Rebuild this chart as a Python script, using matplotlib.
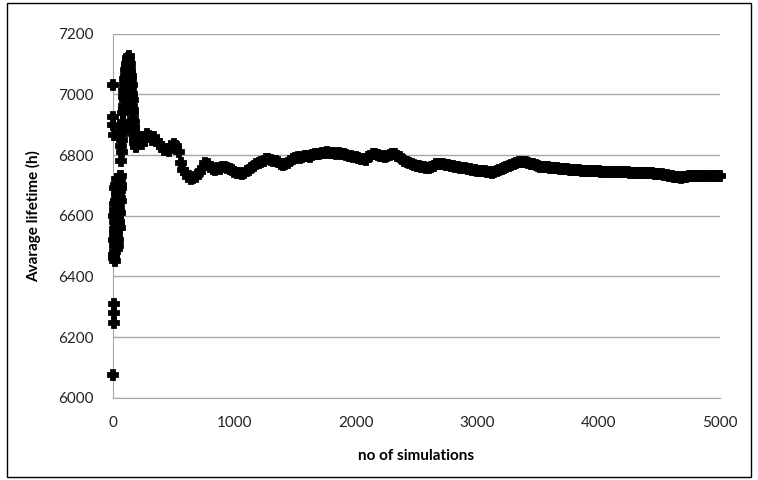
import matplotlib.pyplot as plt
from matplotlib.patches import Rectangle

plt.rcParams['font.family'] = ['Lato', 'DejaVu Sans']

# first eight simulations, read one by one
first_n = [1, 2, 3, 4, 5, 6, 7, 8]
first_avg = [6075, 7032, 6926, 6899, 6866, 6311, 6281, 6248]

# simulations 9..66, every simulation
cluster_n = list(range(9, 67))
cluster_avg = [6460, 6520, 6600, 6470, 6555, 6640, 6500, 6450, 6580, 6690,
               6620, 6540, 6480, 6510, 6560, 6600, 6650, 6575, 6700, 6530,
               6610, 6490, 6530, 6670, 6590, 6620, 6680, 6550, 6720, 6600,
               6640, 6520, 6560, 6690, 6500, 6630, 6600, 6710, 6670, 6580,
               6710, 6640, 6650, 6700, 6580, 6620, 6690, 6560, 6730, 6660,
               6700, 6610, 6720, 6680, 6700, 6650, 6690, 6730]

# simulations 68..198, every second one (the peak)
peak_n = list(range(68, 200, 2))
peak_avg = [6780, 6830, 6870, 6890, 6810, 6850, 6880, 6910, 6940, 6900,
            6960, 6990, 6950, 7010, 6980, 7030,
            7050, 7010, 7060, 7040, 7080, 7020, 7090, 7060, 7100, 7050,
            7110, 7070, 7120, 7080, 7100, 7060,
            7125, 7090, 7110, 7070, 7100, 7040, 7080, 7030, 7060, 7010,
            7050, 6990, 7030, 6960, 7000, 6940,
            6980, 6920, 6950, 6890, 6910, 6870, 6890, 6850, 6870, 6840,
            6860, 6830, 6850, 6825, 6845, 6830, 6855, 6835]

# from 200 simulations on, one reading every 20 simulations
late_n = list(range(200, 5001, 20))
late_avg = [6845, 6860, 6835, 6850, 6870, 6862, 6850, 6858, 6845, 6835,
            6825, 6818, 6820, 6812, 6830, 6838, 6830, 6810, 6775, 6752,
            6740, 6728, 6722, 6726, 6728, 6738, 6745, 6758, 6775, 6770,
            6762, 6755, 6752, 6758, 6755, 6760, 6762, 6758, 6755, 6750,
            6745, 6742, 6740, 6738, 6742, 6748, 6752, 6758, 6765, 6770,
            6775, 6778, 6782, 6786, 6788, 6784, 6780, 6782, 6777, 6772,
            6768, 6770, 6775, 6782, 6788, 6790, 6792, 6790, 6795, 6797,
            6797, 6795, 6800, 6802, 6802, 6804, 6806, 6808, 6810, 6808,
            6808, 6806, 6805, 6806, 6804, 6802, 6800, 6798, 6797, 6795,
            6793, 6790, 6788, 6786, 6784, 6792, 6798, 6803, 6804, 6800,
            6798, 6796, 6795, 6797, 6800, 6803, 6803, 6798, 6792, 6787,
            6782, 6778, 6775, 6771, 6768, 6765, 6763, 6761, 6760, 6758,
            6757, 6760, 6765, 6770, 6772, 6771, 6770, 6768, 6766, 6765,
            6763, 6762, 6760, 6758, 6757, 6756, 6754, 6753, 6752, 6750,
            6749, 6748, 6747, 6746, 6745, 6744, 6742, 6744, 6746, 6750,
            6753, 6757, 6760, 6764, 6768, 6771, 6774, 6776, 6777, 6778,
            6778, 6775, 6772, 6769, 6766, 6764, 6762, 6761, 6760, 6759,
            6758, 6758, 6757, 6756, 6755, 6755, 6754, 6753, 6752, 6752,
            6751, 6750, 6750, 6749, 6748, 6748, 6747, 6747, 6747, 6746,
            6746, 6745, 6745, 6745, 6745, 6745, 6745, 6745, 6745, 6744,
            6744, 6743, 6743, 6742, 6742, 6742, 6742, 6741, 6741, 6740,
            6740, 6740, 6740, 6739, 6739, 6738, 6737, 6735, 6734, 6732,
            6731, 6729, 6728, 6727, 6726, 6727, 6728, 6730, 6731, 6732,
            6732, 6732, 6731, 6731, 6731, 6731, 6731, 6731, 6731, 6731,
            6731]

y_ticks = [6000, 6200, 6400, 6600, 6800, 7000, 7200]
x_ticks = [0, 1000, 2000, 3000, 4000, 5000]

sim_n = first_n + cluster_n + peak_n + late_n
sim_avg = first_avg + cluster_avg + peak_avg + late_avg

fig = plt.figure(figsize=(7.58, 4.80), dpi=100)
ax = fig.add_axes([0.149, 0.171, 0.801, 0.759])

ax.plot(sim_n, sim_avg, linestyle='none', marker='P', markersize=6.5,
        markeredgewidth=1.3, color='black', clip_on=False, zorder=3)

ax.set_xlim(0, 5000)
ax.set_ylim(6000, 7200)
ax.set_xticks(x_ticks)
ax.set_yticks(y_ticks)
ax.grid(axis='y', color='#a6a6a6', linewidth=1)
ax.set_axisbelow(True)
for side in ['top', 'right']:
    ax.spines[side].set_visible(False)
for side in ['left', 'bottom']:
    ax.spines[side].set_color('#a6a6a6')
ax.tick_params(axis='both', length=0, labelsize=11, colors='#222222')
ax.tick_params(axis='y', pad=14)
ax.tick_params(axis='x', pad=13)

ax.set_xlabel('no of simulations', fontsize=11, fontweight='bold', labelpad=14)
ax.set_ylabel('Avarage lifetime (h)', fontsize=11, fontweight='bold', labelpad=12)

# chart area border
fig.patches.append(Rectangle((0.009, 0.006), 0.982, 0.988, transform=fig.transFigure,
                             fill=False, edgecolor='black', linewidth=1))

fig.savefig('out.png', dpi=100)
